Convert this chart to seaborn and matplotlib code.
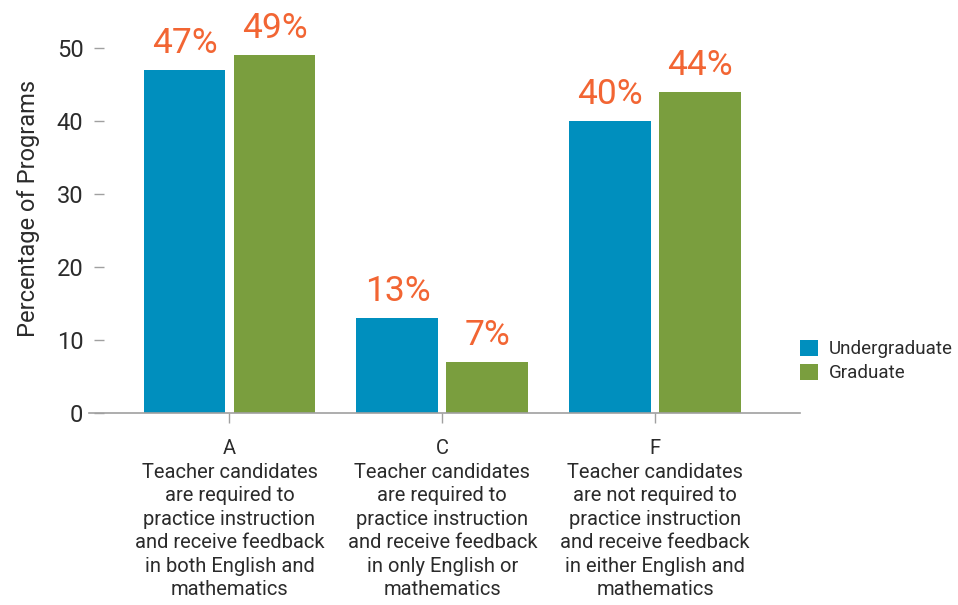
import pandas as pd
import matplotlib.pyplot as plt
import seaborn as sns

groups = ["A", "C", "F"]
group_text = [
    "Teacher candidates\nare required to\npractice instruction\nand receive feedback\nin both English and\nmathematics",
    "Teacher candidates\nare required to\npractice instruction\nand receive feedback\nin only English or\nmathematics",
    "Teacher candidates\nare not required to\npractice instruction\nand receive feedback\nin either English and\nmathematics",
]
undergraduate = [47, 13, 40]
graduate = [49, 7, 44]
series = ["Undergraduate", "Graduate"]

df = pd.DataFrame({
    "group": groups * 2,
    "program": [series[0]] * 3 + [series[1]] * 3,
    "pct": undergraduate + graduate,
})

sns.set_style("white")
plt.rcParams["font.family"] = ["Roboto", "DejaVu Sans"]
text_color = "#2b2b2b"
palette = {"Undergraduate": "#008fbe", "Graduate": "#7a9e3e"}

fig = plt.figure(figsize=(9.58, 6.05), dpi=100)
ax = fig.add_axes([89 / 958, 192 / 605, 711 / 958, 409 / 605])

sns.barplot(data=df, x="group", y="pct", hue="program", palette=palette,
            width=0.845, gap=0.09, saturation=1, linewidth=0, ax=ax)

for c in ax.containers:
    ax.bar_label(c, labels=[f"{v:.0f}%" for v in c.datavalues], padding=7,
                 fontsize=25.5, color="#f26533")

ax.set_xlim(-0.66, 2.68)
ax.set_ylim(0, 56)
ax.set_yticks([0, 10, 20, 30, 40, 50])
ax.set_xticks(range(len(groups)))
ax.set_xticklabels([f"{g}\n{t}" for g, t in zip(groups, group_text)],
                   fontsize=14.5, color=text_color, linespacing=1.3)
ax.set_xlabel("")
ax.set_ylabel("Percentage of Programs", fontsize=17, color=text_color, labelpad=12)

sns.despine(ax=ax, left=True)
ax.spines["bottom"].set_color("#a0a0a0")
ax.spines["bottom"].set_linewidth(1.2)
ax.spines["left"].set_position(("outward", -11))
ax.tick_params(axis="y", direction="out", length=7, width=1, color="#a0a0a0",
               labelsize=17, labelcolor=text_color, pad=8, left=True)
ax.tick_params(axis="x", direction="out", length=7, width=1, color="#a0a0a0",
               pad=12, bottom=True)

handles, labels = ax.get_legend_handles_labels()
ax.legend(handles, labels, loc="center left", bbox_to_anchor=(1.0, 0.127),
          frameon=False, fontsize=13.5, labelcolor=text_color,
          handlelength=0.95, handleheight=0.95, handletextpad=0.6,
          labelspacing=0.3, borderaxespad=0, borderpad=0)

fig.savefig("out.png", dpi=100)
